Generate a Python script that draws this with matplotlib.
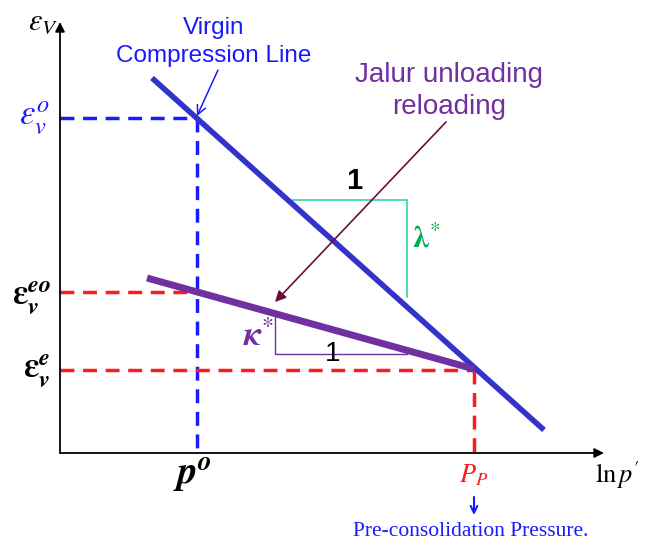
import matplotlib.pyplot as plt

plt.rcParams['mathtext.fontset'] = 'stix'
plt.rcParams['font.family'] = ['Liberation Sans', 'DejaVu Sans']

# state values in (ln p', eps_v) units, origin at the axis corner
p_o = 137
p_p = 414
eps_o = 335
eps_eo = 161
eps_e = 83

vcl_x = [92, 484]
vcl_y = [375, 23]
url_x = [87, 414]
url_y = [175, 84]

# slope triangles
lam_x = [233, 347, 347]
lam_y = [253, 253, 156]
kap_x = [215, 215, 347]
kap_y = [140, 99, 99]

x_end = 544
y_end = 431

BLUE = '#3333cc'
LBLUE = '#1a1aff'
PURPLE = '#7030a0'
RED = '#ff1a1a'
TEAL = '#40d8b0'
GREEN = '#00b050'
MAROON = '#6b0f3a'

fig = plt.figure(figsize=(6.59, 5.44), dpi=100)
ax = fig.add_axes([0, 0, 1, 1])
ax.set_xlim(-60, 599)
ax.set_ylim(-91, 453)
ax.axis('off')

# axes with arrow heads
for end in [(x_end, 0), (0, y_end)]:
    ax.annotate('', xy=end, xytext=(0, 0),
                arrowprops=dict(arrowstyle='-|>', color='black', lw=1.3,
                                mutation_scale=14, shrinkA=0, shrinkB=0))

# dashed guide lines
dash = (0, (4, 2.5))
ax.plot([0, p_o], [eps_o, eps_o], color=LBLUE, lw=2.5, ls=dash)
ax.plot([p_o, p_o], [eps_o, 0], color=LBLUE, lw=2.5, ls=dash)
ax.plot([0, p_o], [eps_eo, eps_eo], color=RED, lw=2.5, ls=dash)
ax.plot([0, p_p], [eps_e, eps_e], color=RED, lw=2.5, ls=dash)
ax.plot([p_p, p_p], [eps_e, 0], color=RED, lw=2.5, ls=dash)

# triangles
ax.plot(lam_x, lam_y, color=TEAL, lw=1.3)
ax.plot(kap_x, kap_y, color=PURPLE, lw=1.0)

# compression and swelling lines
ax.plot(vcl_x, vcl_y, color=BLUE, lw=4, solid_capstyle='butt')
ax.plot(url_x, url_y, color=PURPLE, lw=5, solid_capstyle='butt')

# annotation arrows
ax.annotate('', xy=(p_o, eps_o + 2), xytext=(158, 383),
            arrowprops=dict(arrowstyle='->', color=LBLUE, lw=1.1,
                            mutation_scale=16, shrinkA=0, shrinkB=0))
ax.annotate('', xy=(215, 151), xytext=(386, 331),
            arrowprops=dict(arrowstyle='-|>', color=MAROON, lw=1.2,
                            mutation_scale=16, shrinkA=0, shrinkB=0))
ax.annotate('', xy=(p_p, -62), xytext=(p_p, -44),
            arrowprops=dict(arrowstyle='->', color=LBLUE, lw=1.5,
                            mutation_scale=12, shrinkA=0, shrinkB=0))

# text
ax.text(154, 411, 'Virgin\nCompression Line', color=LBLUE, fontsize=17.5,
        ha='center', va='center', linespacing=1.4)
ax.text(389, 362, 'Jalur unloading\nreloading', color=PURPLE, fontsize=20,
        ha='center', va='center', linespacing=1.25)
ax.text(294, 272, '1', fontsize=21, fontweight='bold', ha='center', va='center')
ax.text(273, 99, '1', fontsize=20, ha='center', va='center')
ax.text(366, 213, r'$\boldsymbol{\lambda}^{*}$', color=GREEN, fontsize=22,
        ha='center', va='center')
ax.text(199, 116, r'$\boldsymbol{\kappa}^{*}$', color=PURPLE, fontsize=25,
        ha='center', va='center')

ax.text(-17, 431, r'$\varepsilon_V$', fontsize=22, ha='center', va='center')
ax.text(-25, 335, r'$\varepsilon_v^o$', color=LBLUE, fontsize=25,
        ha='center', va='center')
ax.text(-28, 155, r'$\boldsymbol{\varepsilon}_\boldsymbol{v}^{\boldsymbol{eo}}$',
        fontsize=25, ha='center', va='center')
ax.text(-23, 82, r'$\boldsymbol{\varepsilon}_\boldsymbol{v}^{\boldsymbol{e}}$',
        fontsize=25, ha='center', va='center')

ax.text(p_o - 5, -22, r'$\boldsymbol{p}^{\boldsymbol{o}}$', fontsize=28,
        ha='center', va='center')
ax.text(p_p, -22, r'$P_P$', color=RED, fontsize=19, ha='center', va='center')
ax.text(557, -22, r"$\mathrm{ln}\,p'$", fontsize=19, ha='center', va='center')
ax.text(p_p - 3, -79, 'Pre-consolidation Pressure.', color=LBLUE,
        fontsize=15.5, family='Liberation Serif', ha='center', va='center')

fig.savefig('out.png', dpi=100)
